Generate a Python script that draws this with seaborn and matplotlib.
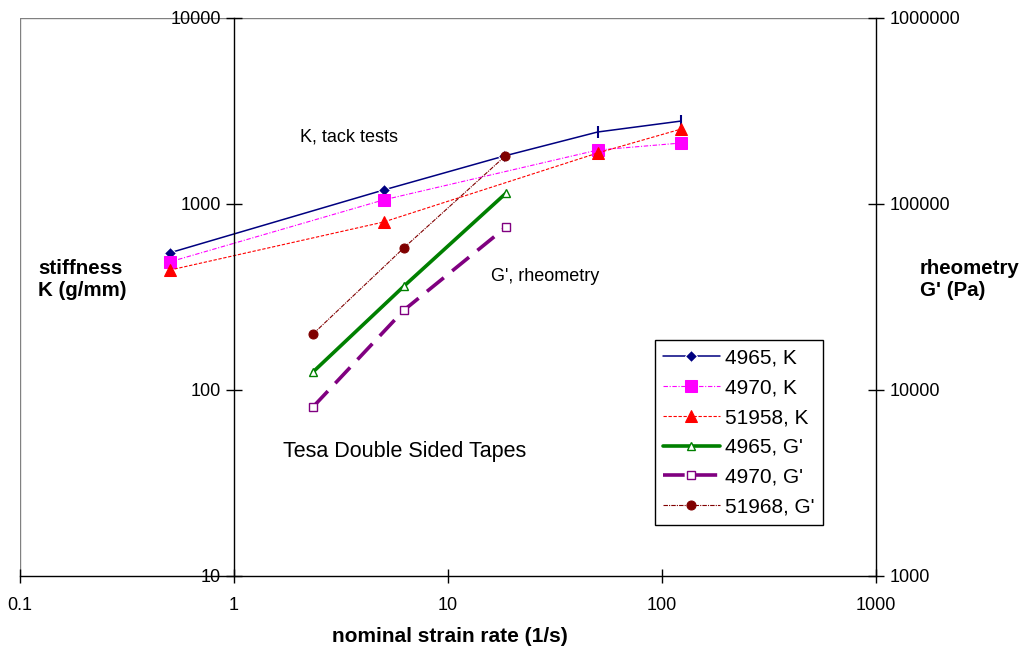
import matplotlib
matplotlib.use("Agg")
import matplotlib.pyplot as plt
import seaborn as sns
import numpy as np
import pandas as pd

# ---- data ----
k4965_x = [0.5, 5, 18.3, 50, 123]
k4965_y = [546, 1189, 1811, 2438, 2793]
k4970_x = [0.5, 5, 50, 123]
k4970_y = [488, 1052, 1950, 2128]
k51958_x = [0.5, 5, 50, 123]
k51958_y = [441, 800, 1880, 2530]
g4965_x = [2.34, 6.23, 18.7]
g4965_y = [12500, 36200, 114600]
g4970_x = [2.34, 6.23, 18.7]
g4970_y = [8110, 26900, 75200]
g51968_x = [2.34, 6.2, 18.5]
g51968_y = [20000, 57900, 181000]

x_ticks = [0.1, 1, 10, 100, 1000]
yl_ticks = [10, 100, 1000, 10000]
yr_ticks = [1000, 10000, 100000, 1000000]

sns.set_style("white")
plt.rcParams['font.family'] = ['Liberation Sans', 'DejaVu Sans']
plt.rcParams['text.color'] = 'black'
plt.rcParams['axes.labelcolor'] = 'black'
plt.rcParams['xtick.color'] = 'black'
plt.rcParams['ytick.color'] = 'black'

fig = plt.figure(figsize=(10.24, 6.48), dpi=100)
L, R, T, B = 20/1024, 876/1024, 1-18/648, 1-576/648
ax = fig.add_axes([L, B, R-L, T-B])
ax2 = ax.twinx()

# K series (left axis)
sns.lineplot(x=k4965_x, y=k4965_y, ax=ax, color='#000080', lw=1.1,
             marker='D', markersize=6, markevery=[0, 1, 2], label='4965, K')
ax.plot(k4965_x[3:], k4965_y[3:], ls='none', marker='|', color='#000080',
        markersize=9, mew=1.5)
sns.lineplot(x=k4970_x, y=k4970_y, ax=ax, color='#FF00FF', lw=0.8,
             linestyle=(0, (4, 1.5, 1, 1.5)), marker='s', markersize=8,
             markeredgecolor='#FF00FF', label='4970, K')
sns.lineplot(x=k51958_x, y=k51958_y, ax=ax, color='#FF0000', lw=0.8,
             linestyle=(0, (3, 1.5)), marker='^', markersize=8,
             markeredgecolor='#FF0000', label='51958, K')

# G' series (right axis)
sns.lineplot(x=g4965_x, y=g4965_y, ax=ax2, color='#008000', lw=2.6,
             marker='^', markersize=6, markerfacecolor='white',
             markeredgecolor='#008000', mew=1.0, label="4965, G'")
sns.lineplot(x=g4970_x, y=g4970_y, ax=ax2, color='#800080', lw=2.6,
             linestyle=(0, (6, 3)), marker='s', markersize=6,
             markerfacecolor='white', markeredgecolor='#800080', mew=1.0,
             label="4970, G'")
sns.lineplot(x=g51968_x, y=g51968_y, ax=ax2, color='#800000', lw=0.8,
             linestyle=(0, (4, 1, 1, 1)), marker='o', markersize=6.5,
             markeredgecolor='#800000', label="51968, G'")

for a in (ax, ax2):
    a.set_xscale('log')
    a.set_yscale('log')
    a.set_xlim(x_ticks[0], x_ticks[-1])
    a.set_xlabel('')
    a.set_ylabel('')
    a.grid(False)
    if a.get_legend():
        a.get_legend().remove()

ax.set_ylim(yl_ticks[0], yl_ticks[-1])
ax2.set_ylim(yr_ticks[0], yr_ticks[-1])

# spines
ax.spines['left'].set_position(('data', 1))
ax.spines['top'].set_visible(False)
ax.spines['right'].set_visible(False)
for s in ('left', 'bottom'):
    ax.spines[s].set_color('black')
    ax.spines[s].set_linewidth(1.0)
ax2.spines['left'].set_visible(False)
ax2.spines['top'].set_visible(False)
ax2.spines['bottom'].set_visible(False)
ax2.spines['right'].set_color('black')
ax2.spines['right'].set_linewidth(1.0)

# gray frame edges (left and top)
ax.axvline(x_ticks[0], color='#808080', lw=1.0, zorder=0.5)
ax.axhline(yl_ticks[-1], color='#808080', lw=1.0, zorder=0.5)

ax.set_xticks(x_ticks)
ax.set_xticklabels(['0.1', '1', '10', '100', '1000'])
ax.set_yticks(yl_ticks)
ax.set_yticklabels([str(v) for v in yl_ticks])
ax2.set_yticks(yr_ticks)
ax2.set_yticklabels([str(v) for v in yr_ticks])
ax.minorticks_off()
ax2.minorticks_off()
ax.tick_params(axis='x', direction='inout', length=10, width=1, pad=10,
               labelsize=13, colors='black', bottom=True)
ax.tick_params(axis='y', direction='inout', length=11, width=1, pad=4,
               labelsize=13, colors='black', left=True)
ax2.tick_params(axis='y', direction='inout', length=11, width=1, pad=4,
                labelsize=13, colors='black', right=True)

# annotations
ax.text(2.03, 2291, 'K, tack tests', fontsize=13, va='center', ha='left')
ax.text(15.9, 410, "G', rheometry", fontsize=13, va='center', ha='left')
ax.text(1.69, 46.5, 'Tesa Double Sided Tapes', fontsize=15.5, va='center', ha='left')

fig.text(38/1024, 1-279/648, 'stiffness\nK (g/mm)', fontsize=14.8,
         fontweight='bold', ha='left', va='center', linespacing=1.2)
fig.text(920/1024, 1-279/648, "rheometry\nG' (Pa)", fontsize=14.8,
         fontweight='bold', ha='left', va='center', linespacing=1.2)
fig.text(450/1024, 1-636/648, 'nominal strain rate (1/s)', fontsize=15,
         fontweight='bold', ha='center', va='center')

# legend combining both axes
h1, l1 = ax.get_legend_handles_labels()
h2, l2 = ax2.get_legend_handles_labels()
leg = fig.legend(h1 + h2, l1 + l2, loc='upper left',
                 bbox_to_anchor=(655/1024, 1-340/648), fontsize=15,
                 frameon=True, fancybox=False, edgecolor='black',
                 framealpha=1, handlelength=2.7, labelspacing=0.52,
                 borderpad=0.4, handletextpad=0.25, borderaxespad=0)
leg.get_frame().set_linewidth(1.0)

fig.savefig('out.png', dpi=100)
